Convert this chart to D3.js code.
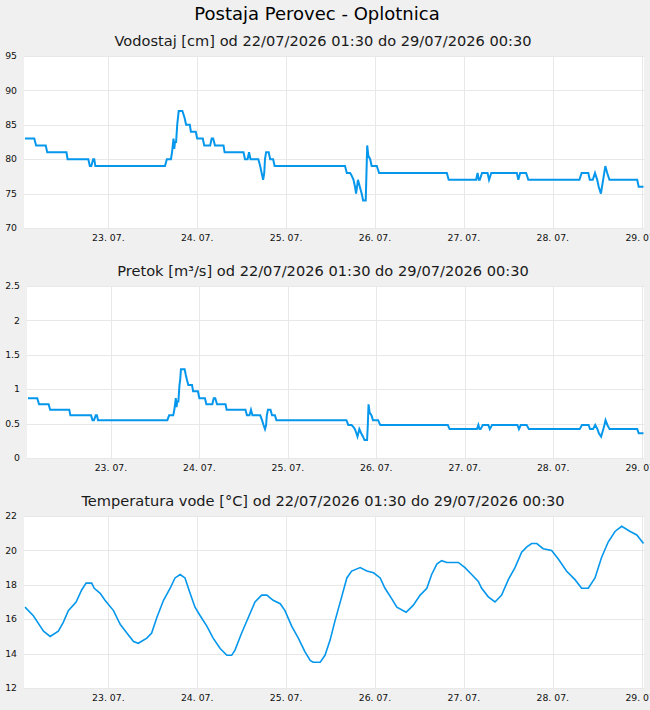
<!DOCTYPE html>
<html>
<head>
<meta charset="utf-8">
<script src="https://cdn.jsdelivr.net/npm/d3@7"></script>
<style>
body { margin: 0; background: #f0f0f0; }
svg { display: block; font-family: "DejaVu Sans", sans-serif; }
</style>
</head>
<body>
<div id="chart"></div>
<script>
// times are hours since 22/07/2026 00:00
var levelHours = [1.5, 4.0, 4.5, 7.1, 7.5, 12.7, 13.0, 18.6, 19.0, 19.4, 19.9, 20.2, 20.5, 39.3, 39.8, 40.9, 41.2, 41.4, 41.6, 41.8,
    42.0, 42.3, 42.6, 42.8, 43.0, 44.0, 44.3, 44.6, 45.0, 46.0, 46.3, 47.6, 48.0, 49.5, 49.9, 51.5, 51.9, 52.3, 52.8, 55.1,
    55.4, 60.5, 60.9, 61.6, 62.0, 62.4, 64.5, 65.0, 65.4, 65.8, 66.1, 66.3, 66.6, 67.3, 67.7, 68.5, 68.9, 87.9, 88.4, 89.3,
    89.8, 90.2, 90.6, 90.9, 91.4, 91.9, 92.4, 92.8, 93.5, 93.7, 93.9, 94.2, 94.7, 95.1, 96.5, 96.8, 97.1, 115.4, 115.9, 123.3,
    123.7, 124.0, 124.3, 124.9, 126.4, 126.8, 127.4, 134.3, 134.7, 135.2, 136.8, 137.4, 151.2, 151.8, 153.6, 154.0, 154.8, 155.4, 156.0, 156.4,
    157.0, 157.6, 157.9, 158.2, 158.7, 159.3, 166.8, 167.2, 168.5];
var levelCm = [83, 83, 82, 82, 81, 81, 80, 80, 79, 79, 80, 80, 79, 79, 80, 80, 81, 82, 83, 81.5,
    82.5, 82.5, 85, 86, 87, 87, 86.5, 86, 85, 85, 84, 84, 83, 83, 82, 82, 83, 83, 82, 82,
    81, 81, 80, 80, 81, 80, 80, 79, 78, 77, 78, 80, 81, 81, 80, 80, 79, 79, 78, 78,
    77.5, 77, 76, 75, 77, 76, 75, 74, 74, 78, 82, 80.5, 80, 79, 79, 78.5, 78, 78, 77, 77,
    78, 77, 77, 78, 78, 77, 78, 78, 77, 78, 78, 77, 77, 78, 78, 77, 77, 78, 77, 76,
    75, 77, 78, 79, 78, 77, 77, 76, 76];
var flowM3s = [0.87, 0.87, 0.78, 0.78, 0.70, 0.70, 0.62, 0.62, 0.55, 0.55, 0.62, 0.62, 0.55, 0.55, 0.62, 0.62, 0.70, 0.78, 0.87, 0.74,
    0.82, 0.82, 1.06, 1.14, 1.29, 1.29, 1.21, 1.14, 1.06, 1.06, 0.97, 0.97, 0.87, 0.87, 0.78, 0.78, 0.87, 0.87, 0.78, 0.78,
    0.70, 0.70, 0.62, 0.62, 0.70, 0.62, 0.62, 0.55, 0.48, 0.42, 0.48, 0.62, 0.70, 0.70, 0.62, 0.62, 0.55, 0.55, 0.48, 0.48,
    0.45, 0.42, 0.36, 0.31, 0.42, 0.36, 0.31, 0.26, 0.26, 0.48, 0.78, 0.66, 0.62, 0.55, 0.55, 0.51, 0.48, 0.48, 0.42, 0.42,
    0.48, 0.42, 0.42, 0.48, 0.48, 0.42, 0.48, 0.48, 0.42, 0.48, 0.48, 0.42, 0.42, 0.48, 0.48, 0.42, 0.42, 0.48, 0.42, 0.36,
    0.31, 0.42, 0.48, 0.55, 0.48, 0.42, 0.42, 0.36, 0.36];
var tempHours = [1.5, 3.75, 5.6, 6.5, 8.3, 10.5, 11.8, 13.2, 15.3, 16.8, 18.0, 19.5, 20.2, 21.8, 23.1, 25.4, 27.2, 29.0, 30.8, 32.1,
    34.4, 35.7, 37.1, 38.9, 40.7, 42.0, 43.4, 44.7, 46.1, 47.4, 48.8, 50.6, 52.3, 54.2, 56.0, 57.3, 58.2, 60.0, 61.8, 63.6,
    65.4, 66.8, 68.5, 70.4, 71.7, 73.5, 75.3, 77.1, 78.5, 79.3, 81.2, 82.5, 83.9, 85.2, 87.0, 88.4, 89.7, 92.0, 93.8, 95.6,
    97.4, 98.7, 100.5, 101.9, 104.4, 106.3, 108.2, 110.0, 111.3, 112.7, 114.0, 115.4, 118.5, 120.3, 122.1, 123.9, 124.8, 126.6, 128.4, 130.2,
    132.0, 133.8, 135.6, 137.0, 138.3, 139.7, 141.4, 143.7, 145.5, 147.7, 150.0, 151.8, 153.6, 155.4, 157.2, 159.0, 160.8, 162.6, 164.9, 166.7,
    168.5];
var tempC = [16.7, 16.2, 15.6, 15.3, 15.0, 15.3, 15.8, 16.5, 17.0, 17.7, 18.1, 18.1, 17.8, 17.5, 17.1, 16.5, 15.7, 15.2, 14.7, 14.6,
    14.9, 15.2, 16.1, 17.1, 17.8, 18.4, 18.6, 18.4, 17.5, 16.7, 16.2, 15.6, 14.9, 14.3, 13.9, 13.9, 14.2, 15.2, 16.1, 17.0,
    17.4, 17.4, 17.1, 16.9, 16.5, 15.6, 14.9, 14.1, 13.6, 13.5, 13.5, 13.9, 14.8, 15.9, 17.3, 18.4, 18.8, 19.0, 18.8, 18.7,
    18.4, 17.8, 17.2, 16.7, 16.4, 16.8, 17.4, 17.8, 18.6, 19.2, 19.4, 19.3, 19.3, 19.0, 18.6, 18.2, 17.8, 17.3, 17.0, 17.4,
    18.3, 19.0, 19.9, 20.2, 20.4, 20.4, 20.1, 20.0, 19.5, 18.8, 18.3, 17.8, 17.8, 18.4, 19.6, 20.5, 21.1, 21.4, 21.1, 20.9,
    20.4];
var levelTicks = [70, 75, 80, 85, 90, 95];
var flowTicks = [0, 0.5, 1, 1.5, 2, 2.5];
var tempTicks = [12, 14, 16, 18, 20, 22];
var dayTicks = [23, 24, 25, 26, 27, 28, 29];

var titleText = "Postaja Perovec - Oplotnica";
var subtitles = [
    "Vodostaj [cm] od 22/07/2026 01:30 do 29/07/2026 00:30",
    "Pretok [m³/s] od 22/07/2026 01:30 do 29/07/2026 00:30",
    "Temperatura vode [°C] od 22/07/2026 01:30 do 29/07/2026 00:30"
];

var width = 650, height = 710;
var lineColor = "#0597ec";
var base = new Date(2026, 6, 22, 0, 0);
var start = new Date(2026, 6, 22, 1, 30);
var end = new Date(2026, 6, 29, 0, 30);

function toDate(h) {
    return new Date(base.getTime() + h * 3600 * 1000);
}

var svg = d3.select('#chart')
    .append('svg')
    .attr('width', width)
    .attr('height', height);

svg.append('rect')
    .attr('width', width)
    .attr('height', height)
    .attr('fill', '#f0f0f0');

svg.append('text')
    .attr('x', 317)
    .attr('y', 20)
    .attr('text-anchor', 'middle')
    .attr('font-size', 18)
    .attr('fill', '#000')
    .text(titleText);

function drawPanel(p) {
    var g = svg.append('g');
    var x = d3.scaleTime().domain([start, end]).range([p.left + 1, 643.5]);
    var y = d3.scaleLinear().domain([p.ticks[0], p.ticks[p.ticks.length - 1]]).range([p.top + 172, p.top]);

    g.append('text')
        .attr('x', 323)
        .attr('y', p.top - 10)
        .attr('text-anchor', 'middle')
        .attr('font-size', 14.6)
        .attr('fill', '#1a1a1a')
        .text(p.subtitle);

    g.append('rect')
        .attr('x', p.left)
        .attr('y', p.top)
        .attr('width', 644 - p.left)
        .attr('height', 172)
        .attr('fill', '#fff');

    g.selectAll('.hgrid')
        .data(p.ticks)
        .enter()
        .append('line')
        .attr('x1', p.left)
        .attr('x2', 644)
        .attr('y1', function(d) { return Math.round(y(d)) + 0.5; })
        .attr('y2', function(d) { return Math.round(y(d)) + 0.5; })
        .attr('stroke', '#e8e8e8');

    var days = dayTicks.map(function(d) { return new Date(2026, 6, d); });

    g.selectAll('.vgrid')
        .data(days)
        .enter()
        .append('line')
        .attr('x1', function(d) { return Math.round(x(d)) + 0.5; })
        .attr('x2', function(d) { return Math.round(x(d)) + 0.5; })
        .attr('y1', p.top)
        .attr('y2', p.top + 172)
        .attr('stroke', '#e8e8e8');

    g.selectAll('.ylab')
        .data(p.ticks)
        .enter()
        .append('text')
        .attr('x', p.left - 7)
        .attr('y', function(d) { return y(d); })
        .attr('dy', '0.35em')
        .attr('text-anchor', 'end')
        .attr('font-size', 9.3)
        .attr('fill', '#111')
        .text(function(d) { return String(d); });

    var fmt = d3.timeFormat('%d. %m.');
    g.selectAll('.xlab')
        .data(days)
        .enter()
        .append('text')
        .attr('x', function(d) { return x(d); })
        .attr('y', p.top + 185)
        .attr('text-anchor', 'middle')
        .attr('font-size', 9.3)
        .attr('fill', '#111')
        .text(function(d) { return fmt(d); });

    var pts = p.hours.map(function(h, i) { return [toDate(h), p.values[i]]; });
    var line = d3.line()
        .x(function(d) { return x(d[0]); })
        .y(function(d) { return y(d[1]); });

    g.append('path')
        .datum(pts)
        .attr('d', line)
        .attr('fill', 'none')
        .attr('stroke', lineColor)
        .attr('stroke-width', p.lineWidth)
        .attr('stroke-linejoin', 'miter');
}

drawPanel({ top: 56, left: 24, ticks: levelTicks, hours: levelHours, values: levelCm, lineWidth: 2, subtitle: subtitles[0] });
drawPanel({ top: 286, left: 27, ticks: flowTicks, hours: levelHours, values: flowM3s, lineWidth: 2, subtitle: subtitles[1] });
drawPanel({ top: 516, left: 24, ticks: tempTicks, hours: tempHours, values: tempC, lineWidth: 1.6, subtitle: subtitles[2] });
</script>
</body>
</html>
